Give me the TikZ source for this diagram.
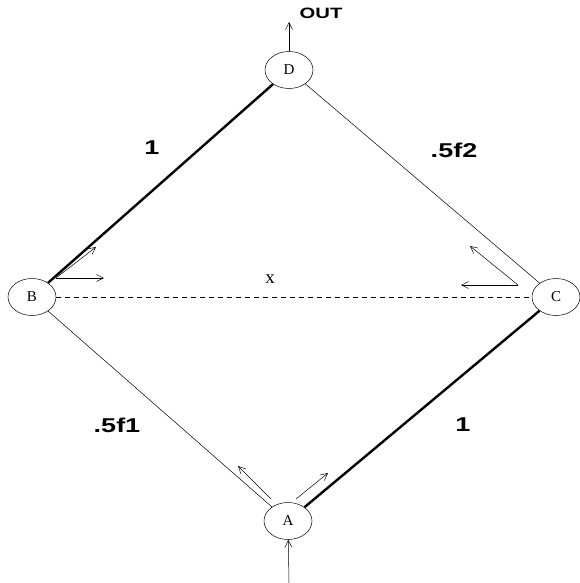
\documentclass[tikz,border=0pt]{standalone}
\usepackage{fontspec}
\setmainfont{Liberation Serif}
\newfontfamily\lblfont{Liberation Sans}[FakeStretch=1.35]
\usetikzlibrary{shapes.geometric,arrows.meta}
\tikzset{
  vtx/.style={draw,ellipse,minimum width=48pt,minimum height=37pt,inner sep=0pt,font=\fontsize{15}{15}\selectfont},
  wt/.style={font=\lblfont\bfseries\fontsize{20}{20}\selectfont},
}
\begin{document}
\begin{tikzpicture}[x=1pt,y=-1pt,>={Straight Barb[length=7pt,width=7pt]},line width=.5pt]
    \useasboundingbox (0,0) rectangle (580,583);
    \node[vtx] (D) at (289,70) {D};
    \node[vtx] (B) at (32,297) {B};
    \node[vtx] (C) at (556,297) {C};
    \node[vtx] (A) at (288,521) {A};
    \draw[line width=2.4pt] (D)--(B);
    \draw (D)--(C);
    \draw (B)--(A);
    \draw[line width=2.4pt] (A)--(C);
    \draw[dash pattern=on 5pt off 4pt] (B)--(C);
    \coordinate (out) at (289,22);
    \coordinate (in) at (289,583);
    \draw[->] (D)--(out);
    \draw[->] (in)--(A);
    \node[font=\lblfont\bfseries\fontsize{15}{15}\selectfont] (OUT) at (321,13) {OUT};
    \node[wt] (w1) at (152,148) {1};
    \node[wt] (w2) at (454,150) {.5f2};
    \node[wt] (w3) at (117,425) {.5f1};
    \node[wt] (w4) at (463,425) {1};
    \node[font=\fontsize{19}{19}\selectfont] (x) at (270,279) {x};
    % small arrows
    \coordinate (b0) at (56,278);
    \coordinate (b1) at (104,278);
    \coordinate (b2) at (96,247);
    \draw[->] (b0)--(b1);
    \draw[->] (b0)--(b2);
    \coordinate (c0) at (518,285);
    \coordinate (c1) at (461,285);
    \coordinate (c2) at (470,246);
    \draw[->] (c0)--(c1);
    \draw[->] (c0)--(c2);
    \coordinate (a1) at (271,499);
    \coordinate (a2) at (238,466);
    \coordinate (a3) at (296,499);
    \coordinate (a4) at (328,473);
    \draw[->] (a1)--(a2);
    \draw[->] (a3)--(a4);
\end{tikzpicture}
\end{document}
